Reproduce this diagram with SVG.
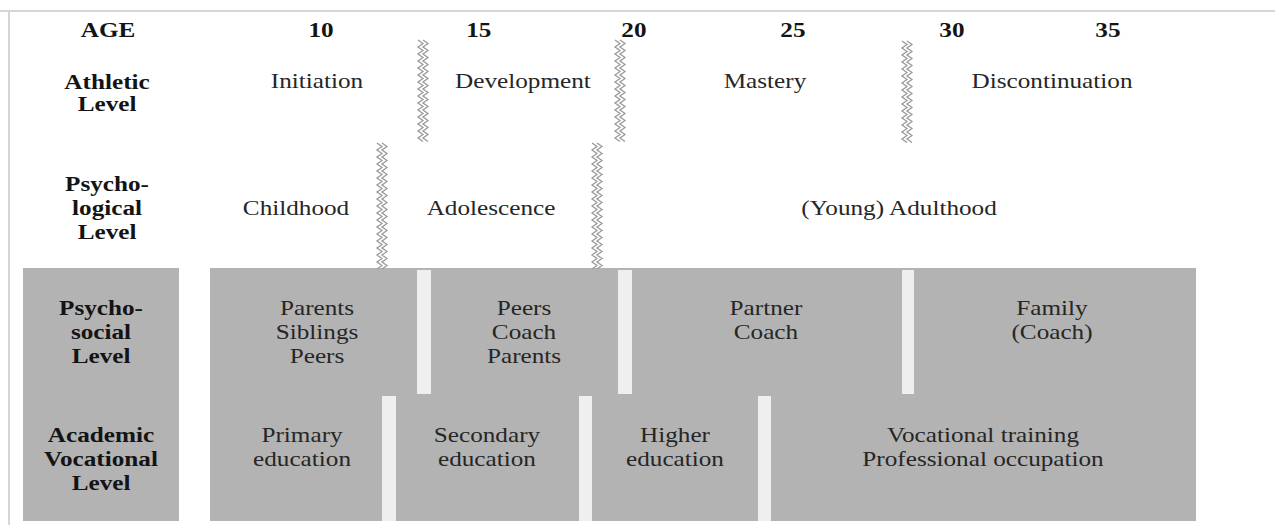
<svg xmlns="http://www.w3.org/2000/svg" xmlns:xlink="http://www.w3.org/1999/xlink" width="1275" height="525" viewBox="0 0 1275 525">
<style>
.t{font-family:"Liberation Serif","Times New Roman",serif;font-size:21px;fill:#262626;text-anchor:middle}
.b{font-family:"Liberation Serif","Times New Roman",serif;font-size:21px;font-weight:bold;fill:#141414;text-anchor:middle}
.g{fill:#b3b3b3}
.s{fill:#efefef}
.z{fill:none;stroke:#9a9a9a;stroke-width:1.3}
</style>
<defs>
<g id="za">
<path class="z" d="M0,0 l5,3.5 -5,3.5 5,3.5 -5,3.5 5,3.5 -5,3.5 5,3.5 -5,3.5 5,3.5 -5,3.5 5,3.5 -5,3.5 5,3.5 -5,3.5 5,3.5 -5,3.5 5,3.5 -5,3.5 5,3.5 -5,3.5 5,3.5 -5,3.5 5,3.5 -5,3.5 5,3.5 -5,3.5 5,3.5 -5,3.5 5,3.5"/>
<path class="z" d="M5,0 l5,3.5 -5,3.5 5,3.5 -5,3.5 5,3.5 -5,3.5 5,3.5 -5,3.5 5,3.5 -5,3.5 5,3.5 -5,3.5 5,3.5 -5,3.5 5,3.5 -5,3.5 5,3.5 -5,3.5 5,3.5 -5,3.5 5,3.5 -5,3.5 5,3.5 -5,3.5 5,3.5 -5,3.5 5,3.5 -5,3.5 5,3.5"/>
</g>
<g id="zp">
<path class="z" d="M0,0 l5,3.5 -5,3.5 5,3.5 -5,3.5 5,3.5 -5,3.5 5,3.5 -5,3.5 5,3.5 -5,3.5 5,3.5 -5,3.5 5,3.5 -5,3.5 5,3.5 -5,3.5 5,3.5 -5,3.5 5,3.5 -5,3.5 5,3.5 -5,3.5 5,3.5 -5,3.5 5,3.5 -5,3.5 5,3.5 -5,3.5 5,3.5 -5,3.5 5,3.5 -5,3.5 5,3.5 -5,3.5 5,3.5 -5,3.5"/>
<path class="z" d="M5,0 l5,3.5 -5,3.5 5,3.5 -5,3.5 5,3.5 -5,3.5 5,3.5 -5,3.5 5,3.5 -5,3.5 5,3.5 -5,3.5 5,3.5 -5,3.5 5,3.5 -5,3.5 5,3.5 -5,3.5 5,3.5 -5,3.5 5,3.5 -5,3.5 5,3.5 -5,3.5 5,3.5 -5,3.5 5,3.5 -5,3.5 5,3.5 -5,3.5 5,3.5 -5,3.5 5,3.5 -5,3.5 5,3.5 -5,3.5"/>
</g>
</defs>
<rect width="1275" height="525" fill="#fff"/>
<g id="frame">
<line x1="0" y1="11" x2="1275" y2="11" stroke="#d6d6d6" stroke-width="2"/>
<line x1="9" y1="11" x2="9" y2="525" stroke="#d6d6d6" stroke-width="2"/>
</g>
<g id="gray-areas">
<rect class="g" x="23" y="268" width="156" height="253"/>
<rect class="g" x="210" y="268" width="986" height="253"/>
<rect class="s" x="417" y="270" width="14" height="124"/>
<rect class="s" x="618" y="270" width="14" height="124"/>
<rect class="s" x="902" y="270" width="12" height="124"/>
<rect class="s" x="382" y="396" width="14" height="125"/>
<rect class="s" x="579" y="396" width="13" height="125"/>
<rect class="s" x="758" y="396" width="13" height="125"/>
</g>
<g id="connectors">
<use xlink:href="#za" transform="translate(418,40)"/>
<use xlink:href="#za" transform="translate(615,40)"/>
<use xlink:href="#za" transform="translate(902,41)"/>
<use xlink:href="#zp" transform="translate(377,143)"/>
<use xlink:href="#zp" transform="translate(592,143)"/>
</g>
<g id="age-row" transform="scale(1.2,1)">
<text class="b" x="90" y="37">AGE</text>
<text class="b" x="267.5" y="37">10</text>
<text class="b" x="399" y="37">15</text>
<text class="b" x="528.3" y="37">20</text>
<text class="b" x="660.8" y="37">25</text>
<text class="b" x="793.3" y="37">30</text>
<text class="b" x="923.3" y="37">35</text>
</g>
<g id="athletic-level" transform="scale(1.2,1)">
<text class="b" x="89.2" y="89">Athletic</text>
<text class="b" x="89.2" y="111">Level</text>
<text class="t" x="264.2" y="88">Initiation</text>
<text class="t" x="435.8" y="88">Development</text>
<text class="t" x="637.5" y="88">Mastery</text>
<text class="t" x="876.7" y="88">Discontinuation</text>
</g>
<g id="psychological-level" transform="scale(1.2,1)">
<text class="b" x="89.2" y="191">Psycho-</text>
<text class="b" x="89.2" y="215">logical</text>
<text class="b" x="89.2" y="239">Level</text>
<text class="t" x="246.7" y="215">Childhood</text>
<text class="t" x="409.2" y="215">Adolescence</text>
<text class="t" x="749.2" y="215">(Young) Adulthood</text>
</g>
<g id="psychosocial-level" transform="scale(1.2,1)">
<text class="b" x="84.2" y="315">Psycho-</text>
<text class="b" x="84.2" y="339">social</text>
<text class="b" x="84.2" y="363">Level</text>
<text class="t" x="264.2" y="315">Parents</text>
<text class="t" x="264.2" y="339">Siblings</text>
<text class="t" x="264.2" y="363">Peers</text>
<text class="t" x="436.7" y="315">Peers</text>
<text class="t" x="436.7" y="339">Coach</text>
<text class="t" x="436.7" y="363">Parents</text>
<text class="t" x="638.3" y="315">Partner</text>
<text class="t" x="638.3" y="339">Coach</text>
<text class="t" x="876.7" y="315">Family</text>
<text class="t" x="876.7" y="339">(Coach)</text>
</g>
<g id="academic-level" transform="scale(1.2,1)">
<text class="b" x="84.2" y="442">Academic</text>
<text class="b" x="84.2" y="466">Vocational</text>
<text class="b" x="84.2" y="490">Level</text>
<text class="t" x="251.7" y="442">Primary</text>
<text class="t" x="251.7" y="466">education</text>
<text class="t" x="405.8" y="442">Secondary</text>
<text class="t" x="405.8" y="466">education</text>
<text class="t" x="562.5" y="442">Higher</text>
<text class="t" x="562.5" y="466">education</text>
<text class="t" x="819.2" y="442">Vocational training</text>
<text class="t" x="819.2" y="466">Professional occupation</text>
</g>
</svg>
